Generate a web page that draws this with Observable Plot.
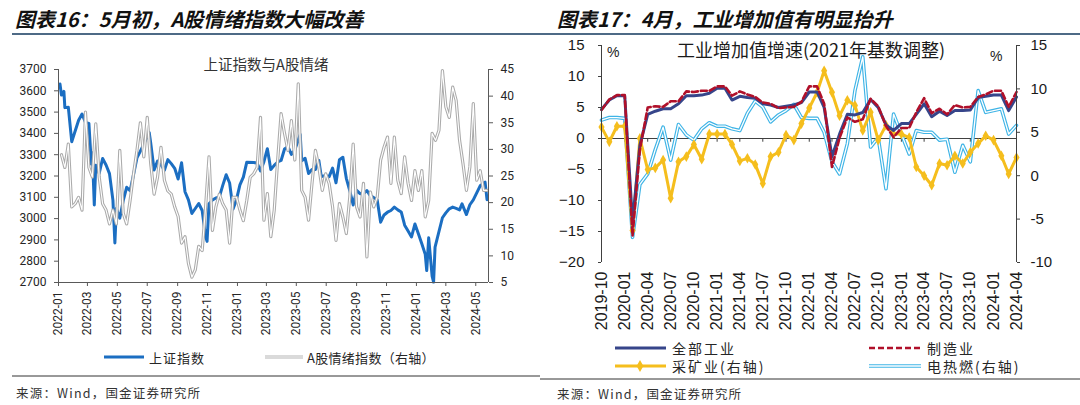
<!DOCTYPE html>
<html>
<head>
<meta charset="utf-8">
<script src="https://cdn.jsdelivr.net/npm/d3@7"></script>
<script src="https://cdn.jsdelivr.net/npm/@observablehq/plot@0.6"></script>
<style>
html,body{margin:0;padding:0;background:#fff;}
#page{position:relative;width:1080px;height:405px;overflow:hidden;background:#fff;}
</style>
</head>
<body>
<div id="page"></div>
<script>
// ---------------- Left chart data ----------------
const shDates = ["2022-01-04","2022-01-07","2022-01-12","2022-01-14","2022-01-21","2022-01-28","2022-02-11","2022-02-18","2022-02-25","2022-03-04","2022-03-09","2022-03-11","2022-03-15","2022-03-18","2022-03-25","2022-04-01","2022-04-08","2022-04-15","2022-04-22","2022-04-26","2022-04-29","2022-05-06","2022-05-13","2022-05-20","2022-05-27","2022-06-02","2022-06-10","2022-06-17","2022-06-24","2022-07-01","2022-07-05","2022-07-08","2022-07-15","2022-07-22","2022-07-29","2022-08-05","2022-08-12","2022-08-19","2022-08-26","2022-09-02","2022-09-09","2022-09-16","2022-09-23","2022-09-30","2022-10-14","2022-10-21","2022-10-28","2022-10-31","2022-11-04","2022-11-11","2022-11-18","2022-11-25","2022-12-02","2022-12-09","2022-12-16","2022-12-23","2022-12-30","2023-01-06","2023-01-13","2023-01-20","2023-02-03","2023-02-10","2023-02-17","2023-02-24","2023-03-03","2023-03-10","2023-03-17","2023-03-24","2023-03-31","2023-04-07","2023-04-14","2023-04-21","2023-04-28","2023-05-09","2023-05-12","2023-05-19","2023-05-26","2023-06-02","2023-06-09","2023-06-16","2023-06-21","2023-06-30","2023-07-07","2023-07-14","2023-07-21","2023-07-28","2023-08-04","2023-08-11","2023-08-18","2023-08-25","2023-09-01","2023-09-08","2023-09-15","2023-09-22","2023-09-28","2023-10-13","2023-10-20","2023-10-27","2023-11-03","2023-11-10","2023-11-17","2023-11-24","2023-12-01","2023-12-08","2023-12-15","2023-12-22","2023-12-29","2024-01-05","2024-01-12","2024-01-19","2024-01-22","2024-01-26","2024-02-02","2024-02-05","2024-02-08","2024-02-23","2024-03-01","2024-03-08","2024-03-15","2024-03-22","2024-03-29","2024-04-03","2024-04-12","2024-04-19","2024-04-26","2024-05-10","2024-05-20","2024-05-24"];
const shValues = [3632,3580,3597,3521,3523,3361,3462,3491,3451,3447,3256,3309,3064,3251,3212,3282,3252,3211,3087,2886,3047,3002,3084,3147,3131,3195,3285,3317,3350,3388,3404,3356,3228,3270,3253,3227,3277,3258,3236,3186,3262,3126,3088,3024,3071,3038,2915,2893,3070,3087,3097,3101,3156,3206,3167,3045,3089,3158,3195,3265,3263,3261,3224,3267,3328,3230,3250,3266,3273,3327,3338,3301,3323,3395,3272,3283,3212,3230,3231,3273,3197,3202,3197,3237,3168,3276,3288,3189,3132,3064,3133,3117,3117,3132,3110,3088,2983,3017,3030,3038,3054,3041,3031,2969,2942,2914,2975,2929,2882,2832,2756,2910,2730,2702,2866,3004,3027,3046,3054,3048,3041,3069,3019,3065,3088,3154,3171,3089];
// A股情绪指数 (right axis), weekly readings starting 2022-01-07
const sentStart = "2022-01-07";
const sentValues = [29,26.6,31,19.2,19.8,21,18.6,37,26.6,24.8,
  34.8,24.8,19.8,18.6,16,18.6,16,29.8,18,16,
  20.4,25.4,29.8,35,28.6,36,27.4,21.6,24.8,30.4,
  24.2,22.2,21.6,19.2,17.4,12.4,13.6,8.6,6,7.4,
  11.8,11,19.2,28.6,14.8,19.2,21.6,19.8,18.6,12.4,
  21,21,18.6,16.6,20.4,24.8,25.4,26.6,36,16.7,
  21.7,13.6,18.6,28,36.7,33,29.8,35.4,28,42.3,
  22.3,21,16.7,23.6,29.8,26.7,22.3,25.4,23.6,19.2,
  12.9,19.8,17.3,14.2,21,31,19.2,17.3,23.6,9.8,
  22,19.2,21,28,30.4,32.3,23.6,32.3,24.2,21.7,
  28.6,23.6,20.4,26,22.3,26,17.3,20.4,33,31.7,
  33.6,44.8,38,36,41.7,39.2,31.7,27.3,22.3,26.7,38.6,24.2,26,22.3,22.3];
const leftTicksL = [2700,2800,2900,3000,3100,3200,3300,3400,3500,3600,3700];
const leftTicksR = [5,10,15,20,25,30,35,40,45];

// ---------------- Right chart data ----------------
const monthStart = "2019-10-01";
const total  = [4.7,6.2,6.9,6.9,-13.5,-1.1,3.9,4.4,4.8,4.8,5.6,6.9,6.9,7.0,7.3,8.1,8.1,6.2,6.8,6.6,6.5,5.6,5.4,5.0,5.2,5.4,5.8,7.5,7.5,5.0,-2.9,0.7,3.9,3.8,4.2,6.3,5.0,2.2,1.3,2.4,2.4,3.9,5.6,3.5,4.4,3.7,4.5,4.5,4.6,6.6,6.8,7.0,7.0,4.5,6.7];
const manu   = [4.6,6.3,7.0,7.0,-15.7,-1.8,5.0,5.2,5.1,6.0,6.0,7.6,7.5,7.7,7.7,8.4,8.4,6.9,7.6,7.1,6.7,5.8,5.6,4.9,5.0,5.1,5.9,8.4,8.4,5.6,-4.6,0.1,3.4,2.7,3.1,6.4,5.2,2.0,0.2,1.7,1.7,4.2,6.5,4.1,4.8,3.9,5.4,5.0,5.1,6.7,7.1,7.7,7.7,5.1,7.5];
const mining = [5.6,3.9,5.7,5.7,-6.3,4.3,0.7,0.9,1.8,-2.6,1.6,2.2,3.6,1.9,4.8,4.8,4.8,3.6,1.7,2.0,1.3,-0.9,2.2,2.7,4.7,4.1,6.0,7.8,9.6,12.1,9.6,6.9,8.7,8.1,5.2,7.3,4.1,5.8,4.8,4.8,4.4,1.0,0.0,-1.1,1.4,1.2,2.3,1.4,2.7,3.7,4.6,4.1,2.3,0.2,2.1];
const util   = [6.4,6.7,6.7,6.6,-7.1,-1.0,0.2,3.0,5.6,1.8,5.9,4.7,4.1,5.4,6.1,5.7,5.7,5.4,5.2,7.2,8.6,7.9,6.2,7.0,7.5,8.2,6.7,6.6,6.6,5.0,1.6,0.2,3.7,9.8,13.7,3.3,4.4,-1.5,7.1,4.8,2.5,5.2,5.0,5.0,4.1,4.2,0.4,3.5,1.6,9.8,7.3,7.5,7.7,4.8,5.8];
const rightTicksL = [-20,-15,-10,-5,0,5,10,15];
const rightTicksR = [-10,-5,0,5,10,15];

// ---------------- build ----------------
const page = document.getElementById("page");
const place = (el, left, top) => { el.style.position = "absolute"; el.style.left = left + "px"; el.style.top = top + "px"; page.appendChild(el); };

// Left chart
const lDom = [2700, 3700], rDom = [5, 45];
const r2l = d3.scaleLinear(rDom, lDom);
const sh = shDates.map((d, i) => ({date: new Date(d), v: shValues[i]}));
const sent = sentValues.map((v, i) => ({date: d3.utcDay.offset(new Date(sentStart), 7 * i), v: r2l(v)}));
const xDomL = [new Date("2022-01-01"), new Date("2024-05-27")];
const xTicksL = d3.utcMonth.every(2).range(new Date("2022-01-01"), new Date("2024-05-02"));
const axisCol = "#595959";

const leftPlot = Plot.plot({
  width: 540, height: 300,
  marginLeft: 58, marginRight: 52, marginTop: 29, marginBottom: 58,
  style: {fontFamily: "Roboto, sans-serif", fontSize: "12px", color: "#262626", background: "transparent", overflow: "visible"},
  x: {type: "utc", domain: xDomL},
  y: {domain: lDom},
  marks: [
    Plot.lineY(sh, {x: "date", y: "v", stroke: "#1B6EC2", strokeWidth: 3, strokeLinejoin: "round"}),
    Plot.lineY(sent, {x: "date", y: "v", stroke: "#ababab", strokeWidth: 3.2, strokeLinejoin: "round"}),
    Plot.lineY(sent, {x: "date", y: "v", stroke: "#ffffff", strokeWidth: 1.1, strokeLinejoin: "round"}),
    Plot.ruleY([lDom[0]], {stroke: axisCol}),
    Plot.ruleX([xDomL[0]], {stroke: axisCol}),
    Plot.ruleX([xDomL[1]], {stroke: axisCol}),
    Plot.axisY(leftTicksL, {anchor: "left", tickSize: 4, tickPadding: 8, stroke: axisCol, label: null, tickFormat: d => String(d)}),
    Plot.axisY(leftTicksR.map(r2l), {anchor: "right", tickSize: 4, tickPadding: 8, stroke: axisCol, label: null, tickFormat: d => String(Math.round(r2l.invert(d)))}),
    Plot.axisX(xTicksL, {anchor: "bottom", tickSize: 4, tickPadding: 5, tickRotate: -90, stroke: axisCol, label: null, tickFormat: d3.utcFormat("%Y-%m")})
  ]
});
place(leftPlot, 0, 40);

// Right chart
const lDom2 = [-20, 15], rDom2 = [-10, 15];
const r2l2 = d3.scaleLinear(rDom2, lDom2);
const months = total.map((_, i) => d3.utcMonth.offset(new Date(monthStart), i));
const rows = months.map((d, i) => ({date: d, total: total[i], manu: manu[i], mining: r2l2(mining[i]), util: r2l2(util[i])}));
const qTicks = months.filter((_, i) => i % 3 === 0);
const axisCol2 = "#404040";

const rightPlot = Plot.plot({
  width: 540, height: 310,
  marginLeft: 61, marginRight: 64, marginTop: 15, marginBottom: 78,
  style: {fontFamily: "'Liberation Sans', Arial, sans-serif", fontSize: "15px", color: "#1a1a1a", background: "transparent", overflow: "visible"},
  x: {type: "utc", domain: [months[0], months[months.length - 1]]},
  y: {domain: lDom2},
  marks: [
    Plot.ruleY([0], {stroke: axisCol2}),
    Plot.ruleX(qTicks, {y1: 0, y2: -0.6, stroke: axisCol2}),
    Plot.lineY(rows, {x: "date", y: "util", stroke: "#3FB4E6", strokeWidth: 3.6}),
    Plot.lineY(rows, {x: "date", y: "util", stroke: "#ffffff", strokeWidth: 1.3}),
    Plot.lineY(rows, {x: "date", y: "mining", stroke: "#F5BE1D", strokeWidth: 3}),
    Plot.dot(rows, {x: "date", y: "mining", symbol: "diamond", r: 3.2, fill: "#F5BE1D"}),
    Plot.lineY(rows, {x: "date", y: "total", stroke: "#36458A", strokeWidth: 3}),
    Plot.lineY(rows, {x: "date", y: "manu", stroke: "#B0102A", strokeWidth: 2.6, strokeDasharray: "6,3"}),
    Plot.ruleX([months[0]], {stroke: axisCol2}),
    Plot.ruleX([months[months.length - 1]], {stroke: axisCol2}),
    Plot.axisY(rightTicksL, {anchor: "left", tickSize: 3, tickPadding: 14, stroke: axisCol2, label: null}),
    Plot.axisY(rightTicksR.map(r2l2), {anchor: "right", tickSize: 3, tickPadding: 11, stroke: axisCol2, label: null, tickFormat: d => String(Math.round(r2l2.invert(d)))}),
    Plot.axisX(qTicks, {anchor: "bottom", tickSize: 0, tickPadding: 9, tickRotate: -90, label: null, fontSize: 16, tickFormat: d3.utcFormat("%Y-%m")})
  ]
});
place(rightPlot, 540, 30);

// Overlay: titles, legends, separators, sources
const ov = d3.select(page).append("svg")
  .attr("width", 1080).attr("height", 405)
  .style("position", "absolute").style("left", "0px").style("top", "0px");
const cn = "'Noto Sans CJK SC', sans-serif";
const txt = (x, y, s, size, opts = {}) => ov.append("text")
  .attr("x", x).attr("y", y).attr("dominant-baseline", "central")
  .attr("font-family", opts.family || cn).attr("font-size", size)
  .attr("font-weight", opts.weight || 400).attr("font-style", opts.style || "normal")
  .attr("letter-spacing", opts.ls || 0)
  .attr("text-anchor", opts.anchor || "start").attr("fill", opts.fill || "#262626").text(s);
const line = (x1, y1, x2, y2, stroke, w, dash) => ov.append("line")
  .attr("x1", x1).attr("y1", y1).attr("x2", x2).attr("y2", y2)
  .attr("stroke", stroke).attr("stroke-width", w).attr("stroke-dasharray", dash || null);

// titles
txt(15, 18, "图表16：5月初，A股情绪指数大幅改善", 20, {weight: 700, style: "italic", fill: "#111"});
txt(557, 18, "图表17：4月，工业增加值有明显抬升", 20, {weight: 700, style: "italic", fill: "#111"});
line(12, 34, 1080, 34, "#4E6A86", 2);

// inner titles
txt(266, 63, "上证指数与A股情绪", 14.5, {anchor: "middle", fill: "#333"});
txt(811, 49, "工业增加值增速(2021年基数调整)", 18, {anchor: "middle", fill: "#1a1a1a"});
txt(607, 52, "%", 14, {family: "'Liberation Sans', Arial, sans-serif", fill: "#1a1a1a"});
txt(990, 56, "%", 14, {family: "'Liberation Sans', Arial, sans-serif", fill: "#1a1a1a"});

// left legend
line(104, 357, 144, 357, "#1B6EC2", 3);
txt(149, 357, "上证指数", 13, {ls: 1});
line(265, 357, 303, 357, "#b5b5b5", 3.2);
line(265, 357, 303, 357, "#ffffff", 1.1);
txt(307, 357, "A股情绪指数（右轴）", 13, {ls: 0.3});

// right legend
line(615, 348, 666, 348, "#36458A", 3);
txt(672, 348, "全部工业", 14, {ls: 2});
line(869, 348, 921, 348, "#B0102A", 2.6, "6,3");
txt(927, 348, "制造业", 14, {ls: 2});
line(615, 366, 666, 366, "#F5BE1D", 3);
ov.append("path").attr("d", d3.symbol(d3.symbolDiamond, 40)()).attr("transform", "translate(640,366)").attr("fill", "#F5BE1D");
txt(672, 366, "采矿业(右轴)", 14, {ls: 2});
line(869, 366, 921, 366, "#3FB4E6", 3.6);
line(869, 366, 921, 366, "#ffffff", 1.3);
txt(927, 366, "电热燃(右轴)", 14, {ls: 2});

// bottom separators and sources
line(12, 376, 540, 376, "#333", 1);
line(540, 379, 1080, 379, "#333", 1);
txt(16, 392, "来源：Wind，国金证券研究所", 12.5, {ls: 1.2, fill: "#333"});
txt(557, 393, "来源：Wind，国金证券研究所", 12.5, {ls: 1.2, fill: "#333"});
</script>
</body>
</html>
